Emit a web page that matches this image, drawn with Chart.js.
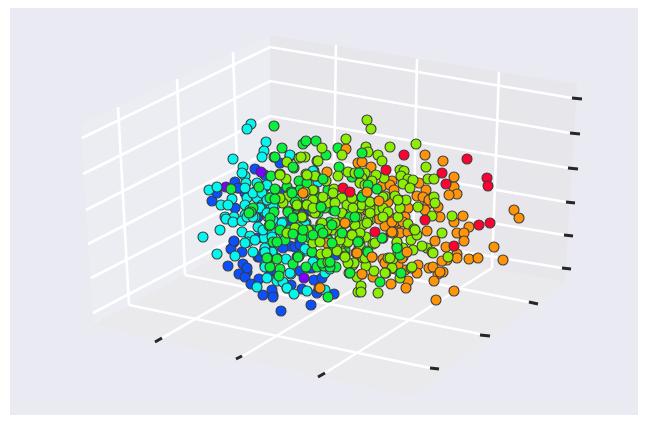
<!DOCTYPE html>
<html>
<head>
<meta charset="utf-8">
<style>
  html, body { margin: 0; background: #fff; }
  #wrap { width: 651px; height: 425px; }
  canvas { display: block; filter: blur(0.5px); }
</style>
<script src="https://cdn.jsdelivr.net/npm/chart.js@4/dist/chart.umd.min.js"></script>
</head>
<body>
<div id="wrap"><canvas id="chart" width="651" height="425"></canvas></div>
<script>
// projected positions of the scatter, one list per colour band
const purpleDots = [[226,187],[261,172],[304,278]];
const blueDots = [[212,201],[217,193],[235,182],[239,188],[255,169],[265,175],[245,193],[235,208],[265,187],[280,163],[258,217],[275,197],
  [234,242],[231,249],[242,252],[258,238],[228,266],[243,264],[247,272],[239,274],[245,277],[259,279],[251,284],[263,295],[273,295],[272,290],
  [281,311],[311,305],[302,289],[317,293],[334,294],[314,280],[322,278],[277,258],[290,246],[283,248],[270,272],[300,271],[309,268],[258,257],
  [327,237],[288,222],[300,240],[270,235],[312,252],[336,255],[283,192],[305,212],[300,212],[332,202],[291,285],[273,297],[295,247],[287,288],
  [300,245],[312,268],[297,257],[255,192],[234,241],[260,257],[247,268],[325,233],[263,186],[277,272],[238,188]];
const cyanDots = [[251,124],[247,129],[266,142],[264,151],[262,157],[233,159],[243,167],[245,176],[246,183],[209,190],[217,187],[290,156],[314,171],
  [232,199],[221,205],[228,205],[247,198],[245,205],[257,198],[262,205],[253,193],[267,197],[225,217],[234,217],[245,215],[274,205],[265,212],[293,193],
  [203,237],[220,230],[217,254],[226,219],[233,222],[242,221],[242,232],[250,236],[258,227],[264,238],[253,252],[235,256],[264,252],[273,251],[277,228],
  [281,223],[286,259],[305,251],[314,261],[291,274],[267,278],[277,281],[283,282],[257,287],[287,288],[294,294],[307,291],[325,290],[325,273],[306,223],
  [268,217],[265,265],[290,155],[313,171],[318,182],[292,192],[275,205],[283,222],[280,223],[305,224],[299,256],[313,262],[330,269],[272,252],[305,249],
  [272,233],[242,173],[250,210],[261,207],[255,217],[248,242],[265,248],[245,188],[273,205],[257,183],[267,185],[262,193],[267,200],[260,208],[267,213],
  [247,217],[253,217],[263,230],[273,220],[282,223],[283,233],[272,237],[255,240],[245,243],[265,252],[265,267],[290,273]];
const greenDots = [[274,126],[282,148],[274,157],[231,189],[303,144],[306,141],[316,141],[294,168],[259,187],[276,190],[270,198],[253,208],[274,212],
  [271,176],[306,182],[299,181],[326,155],[339,167],[338,148],[287,187],[291,192],[297,198],[280,174],[251,212],[318,197],[328,190],[305,205],[333,210],
  [325,208],[313,212],[269,226],[273,242],[268,258],[280,269],[279,276],[293,264],[306,267],[299,256],[328,297],[296,229],[317,267],[336,267],[324,266],
  [352,177],[340,225],[310,238],[296,215],[345,250],[285,240],[330,222],[352,222],[249,213],[270,218],[270,225],[277,259],[270,267],[300,190],[307,183],
  [295,202],[267,258],[298,257],[293,217],[298,227],[280,230],[290,230],[302,238],[312,252],[322,263],[328,240],[318,213],[313,230],[333,247],[330,267]];
const orangeDots = [[346,149],[327,172],[304,193],[358,163],[319,288],[345,223],[356,228],[357,253],[327,243],[425,155],[443,161],[362,162],[371,167],
  [454,177],[454,187],[457,194],[449,195],[419,183],[426,190],[392,181],[382,186],[390,185],[394,190],[367,192],[417,196],[423,197],[400,200],[379,201],
  [388,202],[428,204],[438,207],[425,210],[408,208],[363,210],[353,207],[463,216],[514,210],[519,218],[440,217],[379,217],[405,217],[390,217],
  [454,222],[469,227],[427,231],[457,233],[464,233],[464,241],[435,241],[446,247],[494,247],[457,254],[457,258],[447,260],[442,261],[469,259],
  [478,258],[503,260],[400,233],[408,232],[391,232],[385,226],[379,219],[356,253],[372,257],[383,259],[407,252],[418,265],[429,268],[443,272],[438,274],
  [417,273],[405,270],[362,274],[373,277],[434,281],[408,281],[391,284],[406,288],[454,291],[436,300],[395,269],[359,248],[352,235],[367,210],[429,200],
  [398,223],[395,222],[403,257],[398,265],[393,233],[360,248],[385,263],[402,258],[392,222],[403,222],[355,208],[345,223],[433,267],[440,272]];
const limeDots = [[346,139],[322,148],[342,155],[299,158],[305,157],[287,162],[317,161],[306,174],[316,176],[286,179],[348,172],[338,176],[326,181],
  [314,190],[334,189],[287,197],[283,203],[343,198],[297,206],[307,204],[316,211],[288,211],[350,205],[327,203],[303,217],[355,200],[343,214],[287,233],
  [309,230],[321,224],[313,243],[321,254],[328,262],[335,243],[325,232],[342,253],[333,230],[347,243],[353,265],[357,277],[349,273],[358,292],[343,217],
  [353,218],[352,234],[315,213],[367,120],[371,129],[390,147],[416,144],[366,147],[368,152],[378,155],[382,161],[426,167],[400,170],[404,171],[401,176],
  [408,179],[413,180],[428,179],[434,179],[403,184],[410,188],[384,178],[376,175],[365,173],[372,181],[362,198],[368,201],[385,196],[395,196],[406,200],
  [434,197],[435,203],[418,207],[376,210],[383,208],[360,208],[398,217],[432,216],[355,217],[452,216],[362,178],[355,173],[408,224],[414,229],
  [442,233],[353,234],[366,237],[373,244],[397,243],[411,240],[427,248],[432,252],[403,248],[422,246],[393,259],[363,258],[354,263],[366,266],[411,268],
  [392,268],[374,271],[386,273],[400,278],[361,286],[361,292],[378,293],[398,253],[357,217],[370,220],[417,235],[448,257],[318,161],[315,176],[301,157],
  [313,190],[333,193],[280,198],[305,192],[297,205],[313,200],[323,197],[342,198],[335,203],[347,205],[321,207],[302,216],[321,224],[342,213],[362,205],
  [353,208],[360,183],[363,195],[363,225],[355,225],[348,220],[352,198],[337,225],[307,205],[337,251],[345,256],[360,245],[348,263],[365,258],[348,242],
  [340,235],[360,233],[320,242],[388,212],[368,220],[400,208],[370,208],[398,200],[433,253],[413,250],[388,258],[280,175],[307,175],[313,208],[302,217],
  [308,230],[322,223],[295,228],[327,230],[335,223],[352,235],[340,240],[327,253],[345,257],[367,223],[370,202],[365,185],[383,197],[370,213],[383,217],
  [415,230],[397,247],[383,238],[375,243],[390,258],[385,273],[412,267],[397,242]];
const redDots = [[343,188],[350,192],[404,155],[467,159],[386,170],[442,173],[446,184],[487,178],[488,186],[425,220],[479,225],[490,223],[375,232],[454,246]];
// the ones that sit in front of the lime and orange cloud
const greenFrontDots = [[362,153],[359,173],[368,185],[377,189],[382,238],[359,241],[367,251],[380,282],[400,255],[350,273],[275,157],[293,167],[323,179],
  [275,189],[275,199],[292,193],[288,212],[293,218],[332,225],[350,217],[321,207],[355,217],[362,197],[335,211],[277,242],[293,234],[303,230],[320,229],
  [332,243],[330,262],[313,235],[323,233],[342,233],[401,273],[397,248],[358,242],[368,252]];
const orangeFrontDots = [[303,193],[367,192],[345,223],[357,253],[362,274],[320,288],[379,201],[407,252],[372,257],[392,232]];

const dotBands = [
  { dots: blueDots, color: '#0a50ff' },
  { dots: purpleDots, color: '#7a00ff' },
  { dots: cyanDots, color: '#00f8ee' },
  { dots: greenDots, color: '#0cf03c' },
  { dots: orangeDots, color: '#ff9408' },
  { dots: limeDots, color: '#8cee00' },
  { dots: greenFrontDots, color: '#0cf03c' },
  { dots: orangeFrontDots, color: '#ff9408' },
  { dots: redDots, color: '#ff0033' }
];

// figure background and the three panes of the box
const panelShape = [[10,8],[638,8],[638,415],[10,415]];
const leftWall = [[81,124],[270,35],[270,228],[93,325]];
const rightWall = [[270,35],[577,84],[565,282],[270,228]];
const floorPane = [[93,325],[270,228],[565,282],[410,397]];

// white grid lines
const wallLines = [
  [[82,138],[270,47],[572,98]],
  [[83,174],[270,81],[570,133]],
  [[86,210],[270,116],[568,168]],
  [[88,244],[270,151],[566,202]],
  [[91,278],[270,186],[564,235]],
  [[93,313],[270,220],[562,268]],
  [[118,107],[129,305]],
  [[177,79],[185,275]],
  [[233,52],[240,245]],
  [[336,45],[333,240]],
  [[417,59],[413,254]],
  [[499,72],[492,268]]
];
const floorLines = [
  [[129,305],[430,368]],
  [[185,275],[480,334]],
  [[240,245],[528,302]],
  [[492,268],[325,373]],
  [[413,254],[243,356]],
  [[333,240],[162,338]]
];
// dark tick stubs
const tickMarks = [
  [[572,98],[582,99]], [[570,133],[580,134]], [[568,168],[578,169]],
  [[566,202],[575,203]], [[564,235],[573,236]], [[562,268],[571,269]],
  [[529,302],[538,304]], [[480,335],[490,336]], [[430,368],[439,369]],
  [[325,373],[318,377]], [[242,356],[236,359]], [[162,338],[155,342]]
];

const toXY = (pairs) => pairs.map(([x, y]) => ({ x, y }));

const shape = (pairs, color) => ({
  type: 'scatter',
  data: toXY(pairs),
  showLine: true,
  fill: 'shape',
  backgroundColor: color,
  borderWidth: 0,
  pointRadius: 0,
  tension: 0
});

const line = (pairs, color, width) => ({
  type: 'scatter',
  data: toXY(pairs),
  showLine: true,
  fill: false,
  borderColor: color,
  borderWidth: width,
  pointRadius: 0,
  tension: 0
});

const layers = [
  shape(panelShape, '#eaeaf2'),
  shape(leftWall, '#ecedf3'),
  shape(rightWall, '#e6e6eb'),
  shape(floorPane, '#eaeaed'),
  ...wallLines.map((l) => line(l, '#ffffff', 2.6)),
  ...floorLines.map((l) => line(l, '#ffffff', 2.6)),
  ...tickMarks.map((l) => line(l, '#262626', 3)),
  ...dotBands.map((band) => ({
    type: 'scatter',
    data: toXY(band.dots),
    showLine: false,
    backgroundColor: band.color,
    borderColor: '#3a3a3a',
    borderWidth: 1.1,
    pointRadius: 5
  }))
];

new Chart(document.getElementById('chart'), {
  type: 'scatter',
  // chart.js paints the first dataset last, so flip the back-to-front list
  data: { datasets: layers.reverse() },
  options: {
    responsive: false,
    animation: false,
    layout: { padding: 0, autoPadding: false },
    plugins: { legend: { display: false }, tooltip: { enabled: false } },
    scales: {
      x: { type: 'linear', min: 0, max: 651, display: false },
      y: { type: 'linear', min: 0, max: 425, reverse: true, display: false }
    }
  }
});
</script>
</body>
</html>
